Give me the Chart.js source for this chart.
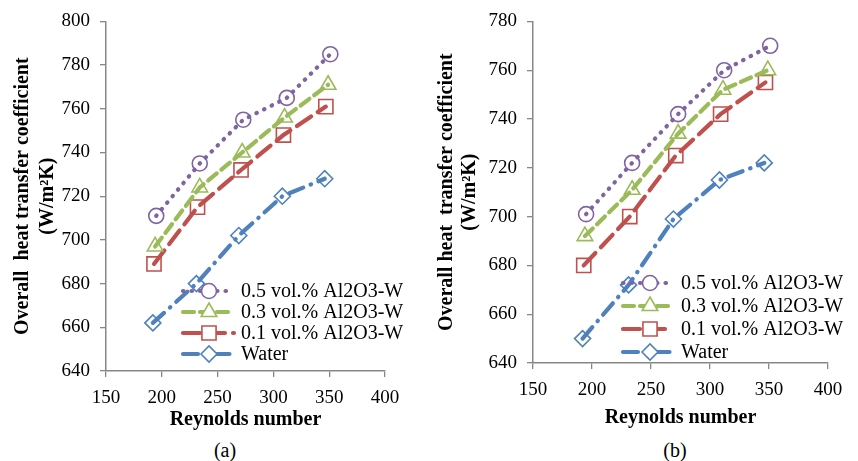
<!DOCTYPE html>
<html>
<head>
<meta charset="utf-8">
<title>Overall heat transfer coefficient vs Reynolds number</title>
<script src="https://cdn.jsdelivr.net/npm/chart.js@4/dist/chart.umd.min.js"></script>
<style>
  html, body { margin: 0; padding: 0; background: #fff; }
  body { width: 858px; height: 461px; position: relative; overflow: hidden; }
  canvas { position: absolute; top: 0; }
  #chart-a { left: 0; }
  #chart-b { left: 430px; }
  .caption {
    position: absolute; top: 439px; width: 60px; text-align: center;
    font: 20px "Liberation Serif"; color: #000;
  }
</style>
</head>
<body>
<canvas id="chart-a" width="429" height="434"></canvas>
<canvas id="chart-b" width="428" height="432"></canvas>
<div class="caption" style="left:195px">(a)</div>
<div class="caption" style="left:645px">(b)</div>

<script>
// ===== DATA =====
const seriesLabels = ['0.5 vol.% Al2O3-W', '0.3 vol.% Al2O3-W', '0.1 vol.% Al2O3-W', 'Water'];

// panel (a)
const reA05 = [195, 234, 273, 312, 351];
const htcA05 = [711, 735, 755, 765, 785];
const reA03 = [194, 234, 272, 310, 349];
const htcA03 = [697, 724, 740, 756, 771];
const reA01 = [193, 232, 271, 309, 347];
const htcA01 = [689, 715, 732, 748, 761];
const reAWater = [192, 231, 269, 308, 346];
const htcAWater = [662, 680, 702, 720, 728];

// panel (b)
const reB05 = [195, 234, 273, 312, 351];
const htcB05 = [701, 722, 742, 760, 770];
const reB03 = [194, 234, 273, 311, 349];
const htcB03 = [692, 711, 734, 752, 760];
const reB01 = [193, 232, 271, 309, 347];
const htcB01 = [680, 700, 725, 742, 755];
const reBWater = [192, 231, 269, 308, 346];
const htcBWater = [650, 672, 699, 715, 722];

const xTicks = [150, 200, 250, 300, 350, 400];
const yTicksA = [640, 660, 680, 700, 720, 740, 760, 780, 800];
const yTicksB = [640, 660, 680, 700, 720, 740, 760, 780];

// ===== STYLES =====
const SERIF = '"Liberation Serif"';
const AXIS_GREY = '#878787';

const seriesStyles = [
  { color: '#8064A2', dash: [0.5, 8], point: 'circle', radius: 7.5 },
  { color: '#9BBB59', dash: [11, 6], point: 'triangle', radius: 9 },
  { color: '#C0504D', dash: [17, 8], point: 'rect', radius: 10 },
  { color: '#4F81BD', dash: [15, 8, 0.5, 8], point: 'rectRot', radius: 8 }
];

/**
 * Build a scatter-line dataset from x/y arrays
 */
function makeDataset(index, xs, ys) {
  const s = seriesStyles[index];
  return {
    label: seriesLabels[index],
    data: xs.map((x, i) => ({ x: x, y: ys[i] })),
    showLine: true,
    tension: 0,
    borderColor: s.color,
    borderWidth: 4.2,
    borderDash: s.dash,
    borderCapStyle: 'round',
    pointStyle: s.point,
    pointRadius: s.radius,
    pointHoverRadius: s.radius,
    pointBorderWidth: 1.6,
    pointBorderColor: s.color,
    pointBackgroundColor: 'rgba(255,255,255,0)'
  };
}

/**
 * Legend drawn Excel-style: dashed line sample with the marker in the middle
 */
const sampleLegend = {
  id: 'sampleLegend',
  afterDatasetsDraw(chart, args, opts) {
    const ctx = chart.ctx;
    chart.data.datasets.forEach((ds, i) => {
      const y = opts.rows[i];
      ctx.save();
      ctx.strokeStyle = ds.borderColor;
      ctx.lineWidth = ds.borderWidth;
      ctx.lineCap = ds.borderCapStyle;
      ctx.setLineDash(ds.borderDash);
      ctx.beginPath();
      ctx.moveTo(opts.x0, y);
      ctx.lineTo(opts.x1, y);
      ctx.stroke();
      ctx.setLineDash([]);
      ctx.fillStyle = '#fff';
      ctx.strokeStyle = ds.pointBorderColor;
      ctx.lineWidth = ds.pointBorderWidth;
      Chart.helpers.drawPoint(ctx, {
        pointStyle: ds.pointStyle,
        radius: ds.pointRadius,
        borderWidth: ds.pointBorderWidth,
        rotation: 0
      }, opts.mx, y);
      ctx.fillStyle = '#000';
      ctx.font = '20px ' + SERIF;
      ctx.textBaseline = 'middle';
      ctx.textAlign = 'left';
      ctx.fillText(ds.label, opts.tx, y + 1);
      ctx.restore();
    });
  }
};

/**
 * Create one panel
 */
function makePanel(canvasId, datasets, yTicks, geom) {
  const ctx = document.getElementById(canvasId);
  return new Chart(ctx, {
    type: 'scatter',
    data: { datasets: datasets },
    plugins: [sampleLegend],
    options: {
      responsive: false,
      animation: false,
      devicePixelRatio: 1,
      layout: { padding: { left: 0, top: 20, right: geom.padRight, bottom: 0 } },
      plugins: {
        legend: { display: false },
        tooltip: { enabled: false },
        sampleLegend: geom.legend
      },
      scales: {
        x: {
          type: 'linear',
          min: xTicks[0],
          max: xTicks[xTicks.length - 1],
          afterBuildTicks: (scale) => { scale.ticks = xTicks.map(v => ({ value: v })); },
          afterFit: (scale) => { scale.height = geom.xHeight; },
          ticks: { color: '#000', padding: 10, font: { family: SERIF, size: 19 } },
          grid: { drawOnChartArea: false, drawTicks: true, tickLength: 6, color: AXIS_GREY, lineWidth: 1.3 },
          border: { color: AXIS_GREY, width: 1.5 },
          title: {
            display: true,
            text: 'Reynolds number',
            color: '#000',
            padding: { top: 0, bottom: 2 },
            font: { family: SERIF, size: 20, weight: 'bold', lineHeight: 1.2 }
          }
        },
        y: {
          type: 'linear',
          min: yTicks[0],
          max: yTicks[yTicks.length - 1],
          afterBuildTicks: (scale) => { scale.ticks = yTicks.map(v => ({ value: v })); },
          afterFit: (scale) => { scale.width = geom.yWidth; },
          ticks: { color: '#000', padding: 10, font: { family: SERIF, size: 19 } },
          grid: { drawOnChartArea: false, drawTicks: true, tickLength: 6, color: AXIS_GREY, lineWidth: 1.3 },
          border: { color: AXIS_GREY, width: 1.5 },
          title: {
            display: true,
            text: [geom.yTitle, '(W/m²K)'],
            color: '#000',
            padding: { top: geom.yTitlePad, bottom: 0 },
            font: { family: SERIF, size: 20, weight: 'bold', lineHeight: geom.yTitleLH }
          }
        }
      }
    }
  });
}

Chart.defaults.font.family = SERIF;

makePanel('chart-a', [
  makeDataset(0, reA05, htcA05),
  makeDataset(1, reA03, htcA03),
  makeDataset(2, reA01, htcA01),
  makeDataset(3, reAWater, htcAWater)
], yTicksA, {
  padRight: 44,
  xHeight: 63,
  yWidth: 106,
  yTitle: 'Overall  heat transfer coefficient',
  yTitlePad: 10,
  yTitleLH: 1.27,
  legend: { x0: 183, x1: 234, mx: 209, tx: 241, rows: [291, 312, 333, 354] }
});

makePanel('chart-b', [
  makeDataset(0, reB05, htcB05),
  makeDataset(1, reB03, htcB03),
  makeDataset(2, reB01, htcB01),
  makeDataset(3, reBWater, htcBWater)
], yTicksB, {
  padRight: 30,
  xHeight: 69,
  yWidth: 103,
  yTitle: 'Overall heat  transfer coefficient',
  yTitlePad: 5,
  yTitleLH: 1.17,
  legend: { x0: 193, x1: 243, mx: 220, tx: 251, rows: [283, 306, 329, 352] }
});
</script>
</body>
</html>
